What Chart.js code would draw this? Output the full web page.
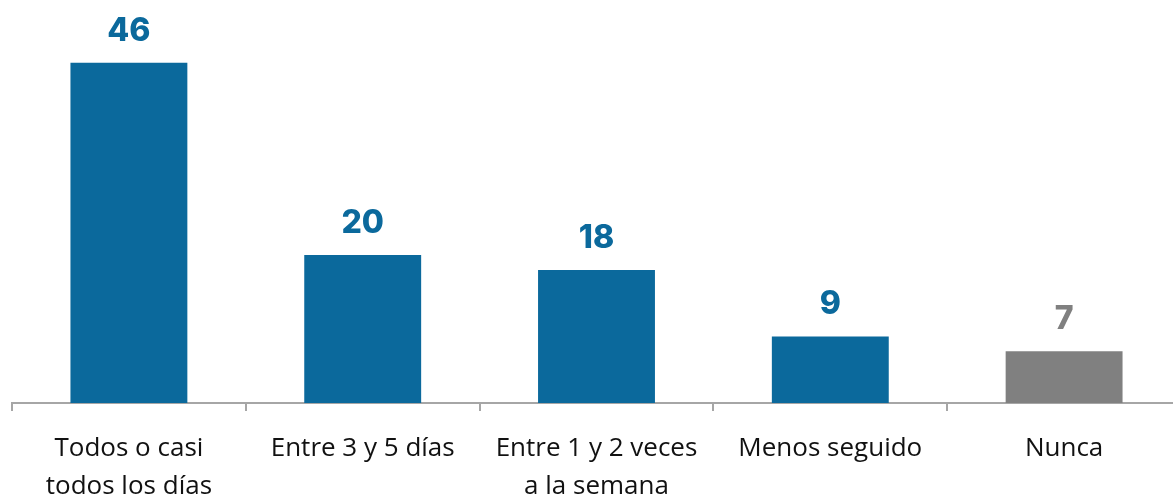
<!DOCTYPE html>
<html>
<head>
<meta charset="utf-8">
<script src="https://cdn.jsdelivr.net/npm/chart.js@4/dist/chart.umd.min.js"></script>
<style>
  html, body { margin: 0; padding: 0; background: #fff; overflow: hidden; }
  #wrap { width: 1181px; height: 498px; position: relative; }
</style>
</head>
<body>
<div id="wrap"><canvas id="chart"></canvas></div>
<script>
const categories = [
  ['Todos o casi', 'todos los días'],
  'Entre 3 y 5 días',
  ['Entre 1 y 2 veces', 'a la semana'],
  'Menos seguido',
  'Nunca'
]
const values = [46, 20, 18, 9, 7]
const barColors = ['#0B699C', '#0B699C', '#0B699C', '#0B699C', '#808080']

// draws the number above each bar
const valueLabels = {
  id: 'valueLabels',
  afterDatasetsDraw(chart) {
    const ctx = chart.ctx
    const meta = chart.getDatasetMeta(0)
    ctx.save()
    ctx.font = '800 32px Inter'
    ctx.textAlign = 'center'
    ctx.textBaseline = 'alphabetic'
    meta.data.forEach((bar, i) => {
      ctx.fillStyle = barColors[i]
      ctx.fillText(values[i], bar.x, bar.y - 22)
    })
    ctx.restore()
  }
}

new Chart(document.getElementById('chart'), {
  type: 'bar',
  data: {
    labels: categories,
    datasets: [{
      data: values,
      backgroundColor: barColors,
      barPercentage: 0.5,
      categoryPercentage: 1
    }]
  },
  options: {
    responsive: true,
    maintainAspectRatio: false,
    animation: false,
    layout: { padding: { left: 12, right: 0, top: 0, bottom: 0 } },
    plugins: {
      legend: { display: false },
      tooltip: { enabled: false }
    },
    scales: {
      x: {
        offset: true,
        border: { display: true, color: '#A6A6A6', width: 2 },
        grid: { display: true, drawOnChartArea: false, tickLength: 8, color: '#A6A6A6', lineWidth: 2, offset: true },
        ticks: {
          color: '#111',
          padding: 19,
          maxRotation: 0,
          autoSkip: false,
          font: { family: 'Open Sans', size: 26, lineHeight: 1.45 }
        },
        afterFit(scale) { scale.height = 95 }
      },
      y: {
        display: false,
        min: 0,
        max: 54.5
      }
    }
  },
  plugins: [valueLabels]
})
</script>
</body>
</html>
